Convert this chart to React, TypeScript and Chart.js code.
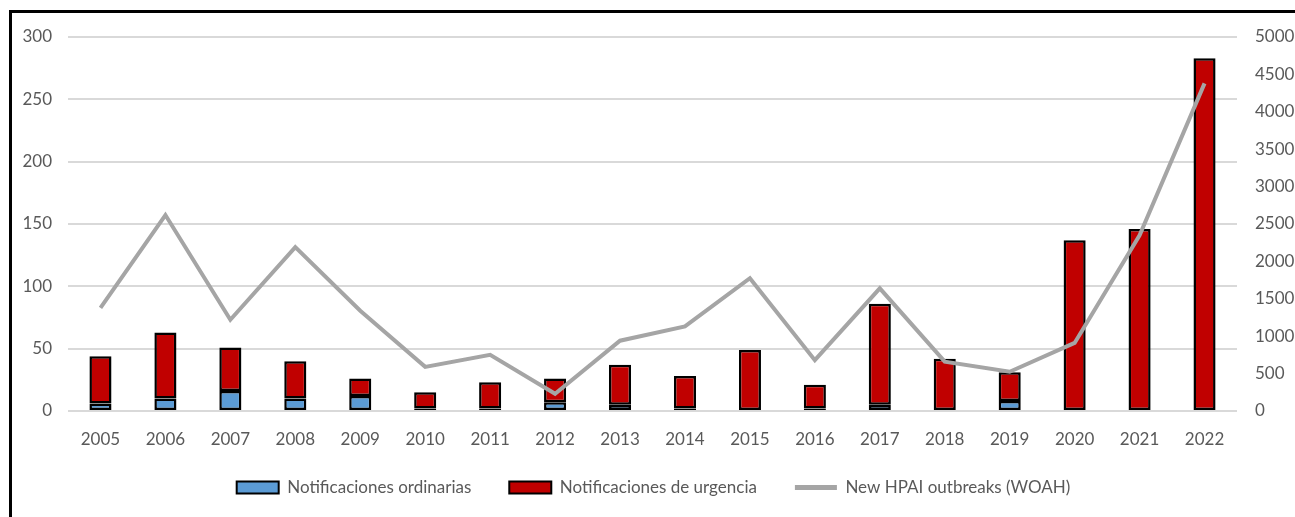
import React, { useEffect, useRef } from "react";
import { Chart, registerables } from "chart.js";

Chart.register(...registerables);

const years = ["2005","2006","2007","2008","2009","2010","2011","2012","2013","2014","2015","2016","2017","2018","2019","2020","2021","2022"];
const ordinarias = [6, 10, 16, 10, 12, 2, 2, 7, 5, 2, 0, 2, 5, 0, 8, 0, 0, 0];
const urgencia = [38, 53, 35, 30, 14, 13, 21, 19, 32, 26, 49, 19, 81, 42, 23, 137, 146, 283];
const hpaiOutbreaks = [1380, 2620, 1220, 2190, 1340, 590, 750, 230, 940, 1130, 1775, 680, 1640, 660, 525, 910, 2350, 4380];

const FONT = "Lato, 'Open Sans', sans-serif";
const TEXT = "#595959";

export default function App() {
  const ref = useRef<HTMLCanvasElement | null>(null);

  useEffect(() => {
    if (!ref.current) return;
    const legendFitPlugin = {
      id: "legendFit",
      beforeInit(chart: any) {
        const orig = chart.legend.fit;
        chart.legend.fit = function () {
          orig.bind(chart.legend)();
          this.height = 62;
        };
      },
      afterLayout(chart: any) {
        if (chart.legend) {
          chart.legend.top -= 14;
          chart.legend.bottom -= 14;
        }
      },
    };
    const chart = new Chart(ref.current, {
      type: "bar",
      data: {
        labels: years,
        datasets: [
          {
            type: "bar",
            label: "Notificaciones ordinarias",
            data: ordinarias,
            backgroundColor: "#5b9bd5",
            borderColor: "#000000",
            borderWidth: 2.5,
            borderSkipped: false,
            stack: "s",
            yAxisID: "y",
            order: 1,
            barPercentage: 0.34,
            categoryPercentage: 1,
          },
          {
            type: "bar",
            label: "Notificaciones de urgencia",
            data: urgencia,
            backgroundColor: "#c00000",
            borderColor: "#000000",
            borderWidth: 2.5,
            borderSkipped: false,
            stack: "s",
            yAxisID: "y",
            order: 1,
            barPercentage: 0.34,
            categoryPercentage: 1,
          },
          {
            type: "line",
            label: "New HPAI outbreaks (WOAH)",
            data: hpaiOutbreaks,
            borderColor: "#a5a5a5",
            backgroundColor: "#a5a5a5",
            borderWidth: 4,
            pointRadius: 0,
            tension: 0,
            yAxisID: "y1",
            order: 0,
          } as any,
        ],
      },
      options: {
        animation: false,
        responsive: false,
        maintainAspectRatio: false,
        layout: { padding: { left: 12, right: 0, top: 37, bottom: 0 } },
        scales: {
          x: {
            stacked: true,
            grid: { display: false },
            border: { display: false },
            ticks: { color: TEXT, font: { family: FONT, size: 17 }, padding: 10, maxRotation: 0, autoSkip: false },
            afterFit(scale: any) { scale.height = 44; },
          },
          y: {
            stacked: true,
            position: "left",
            min: 0,
            max: 300,
            ticks: { stepSize: 50, color: TEXT, font: { family: FONT, size: 17 }, padding: 16 },
            grid: { color: "#d9d9d9", lineWidth: 2, drawTicks: false },
            border: { display: false },
            afterFit(scale: any) { scale.width = 56; },
          },
          y1: {
            position: "right",
            min: 0,
            max: 5000,
            ticks: {
              stepSize: 500,
              color: TEXT,
              font: { family: FONT, size: 17 },
              padding: 18,
              callback: (v: any) => String(v),
            },
            grid: { display: false, drawTicks: false },
            border: { display: false },
            afterFit(scale: any) { scale.width = 58; },
          },
        },
        plugins: {
          tooltip: { enabled: false },
          legend: {
            position: "bottom",
            labels: {
              color: TEXT,
              font: { family: FONT, size: 17 },
              padding: 38,
              usePointStyle: true,
              pointStyleWidth: 42,
              boxHeight: 12,
              sort: (a: any, b: any) => a.datasetIndex - b.datasetIndex,
              generateLabels(chart: any) {
                const items = Chart.defaults.plugins.legend.labels.generateLabels(chart);
                return items.map((it: any) => {
                  if (it.datasetIndex === 2) {
                    return { ...it, pointStyle: "line", lineWidth: 5, strokeStyle: "#a5a5a5", fillStyle: "#a5a5a5" };
                  }
                  return { ...it, pointStyle: "rect", lineWidth: 2, strokeStyle: "#000000" };
                });
              },
            },
          },
        },
      },
      plugins: [legendFitPlugin],
    });
    return () => chart.destroy();
  }, []);

  return (
    <div style={{ position: "fixed", left: 0, top: 0, width: 1295, height: 517, overflow: "hidden", background: "#ffffff" }}>
      <div
        style={{
          position: "absolute",
          left: 9,
          top: 10,
          width: 2000,
          height: 2000,
          borderLeft: "3px solid #000",
          borderTop: "3px solid #000",
        }}
      />
      <canvas
        ref={ref}
        width={1295}
        height={517}
        style={{ position: "absolute", left: 0, top: 0, width: 1295, height: 517 }}
      />
    </div>
  );
}
